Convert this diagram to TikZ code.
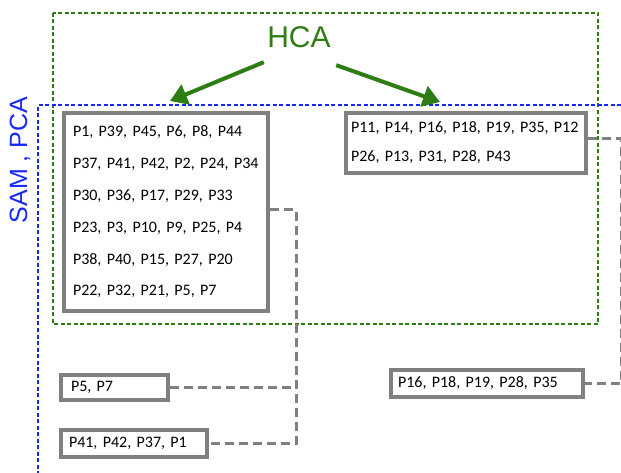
\documentclass[tikz,border=0pt]{standalone}
\usepackage{fontspec}
\usepackage{tikz}
\usetikzlibrary{arrows.meta, positioning, calc}
\newfontfamily\arialfont{Liberation Sans}
\newfontfamily\calfont{Carlito}
\definecolor{hcagreen}{RGB}{46,125,20}
\definecolor{pcablue}{RGB}{20,40,250}
\definecolor{boxgray}{RGB}{128,128,128}

\begin{document}
\begin{tikzpicture}[x=1pt, y=-1pt,
    cluster/.style={draw=boxgray, line width=3.5pt, inner ysep=0pt, align=left, fill=white, font=\calfont\fontsize{16}{20}\selectfont},
    hcaframe/.style={draw=hcagreen, line width=1.4pt, dash pattern=on 4pt off 2.5pt},
    pcaframe/.style={draw=pcablue, line width=1.4pt, dash pattern=on 4pt off 2.5pt},
    hcaarrow/.style={draw=hcagreen, line width=4pt, -{Triangle[length=17pt, width=21pt]}},
    link/.style={draw=boxgray, line width=3pt, dash pattern=on 9pt off 5pt}
]
    \useasboundingbox (0,0) rectangle (621,473);

    \draw[hcaframe] (53,13) rectangle (598,324);
    \draw[pcaframe] (621,105) -- (38,105) -- (38,473);

    \node[font=\arialfont\fontsize{30}{36}\selectfont, text=hcagreen] (hca) at (299,37) {HCA};
    \node[font=\arialfont\fontsize{25}{30}\selectfont, text=pcablue, rotate=90] (sampca) at (20,160) {SAM , PCA};

    \node[cluster, minimum height=198pt, inner xsep=9pt, text width=186pt, font=\calfont\fontsize{16}{31.8}\selectfont] (clA) at (166,212)
        {P1, P39, P45, P6, P8, P44\\ P37, P41, P42, P2, P24, P34\\ P30, P36, P17, P29, P33\\ P23, P3, P10, P9, P25, P4\\ P38, P40, P15, P27, P20\\ P22, P32, P21, P5, P7};
    \node[cluster, minimum height=60pt, inner xsep=5pt, text width=230pt, font=\calfont\fontsize{16}{29}\selectfont] (clD) at (466,143)
        {P11, P14, P16, P18, P19, P35, P12\\ P26, P13, P31, P28, P43};
    \node[cluster, minimum height=25pt, inner xsep=10pt, text width=87pt] (clB) at (114.5,387.5) {P5, P7};
    \node[cluster, minimum height=27pt, inner xsep=8pt, text width=130pt] (clC) at (134,443.5) {P41, P42, P37, P1};
    \node[cluster, minimum height=27pt, inner xsep=7pt, text width=178pt] (clE) at (487,383.5) {P16, P18, P19, P28, P35};

    \coordinate (tipL) at (170,101);
    \coordinate (tipR) at (440,102);
    \draw[hcaarrow] ([yshift=-11pt]hca.south west) -- (tipL);
    \draw[hcaarrow] ([shift={(2pt,-14pt)}]hca.south east) -- (tipR);

    \coordinate (lbus) at (296,0);
    \coordinate (rbus) at (621.5,0);
    \draw[link] ([yshift=2pt]clA.east) -| (lbus |- clC.east) -- (clC.east);
    \draw[link] (clB.east) -- (lbus |- clB.east);
    \draw[link] ([yshift=4pt]clD.east) -| (rbus |- clE.east) -- (clE.east);

\end{tikzpicture}
\end{document}
